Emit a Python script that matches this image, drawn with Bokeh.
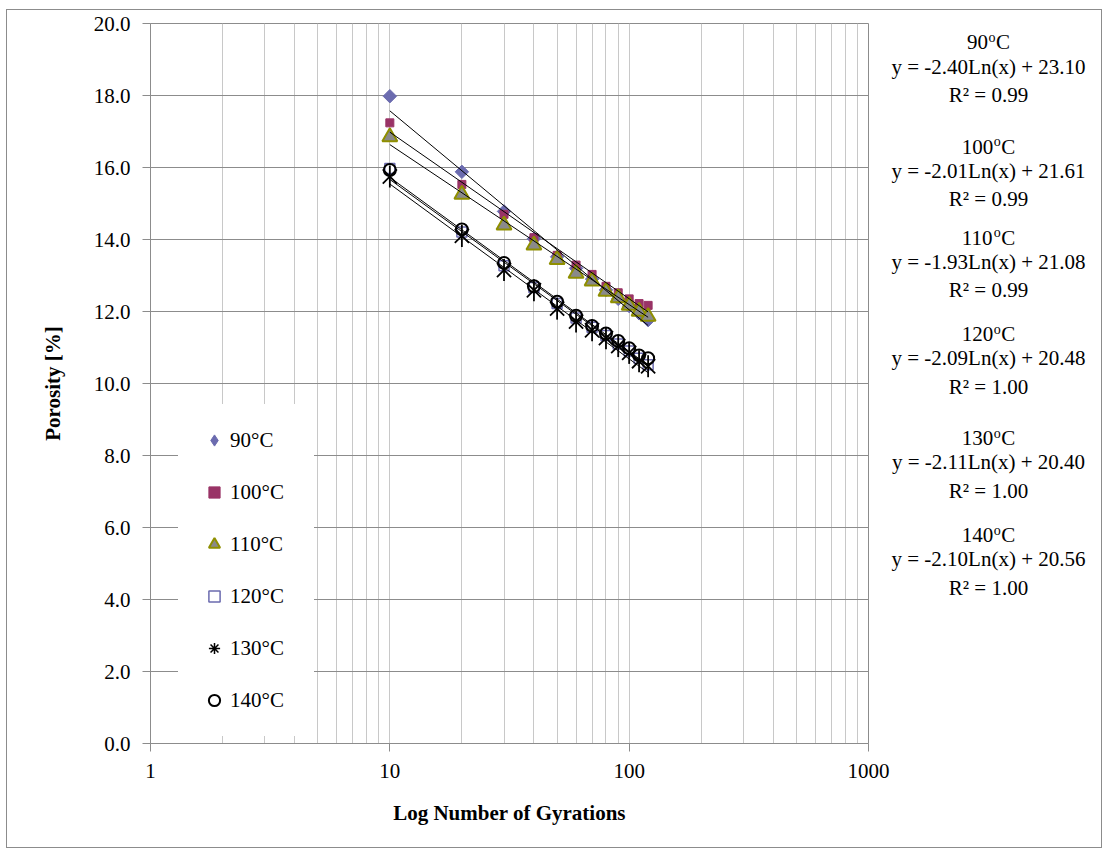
import numpy as np
from bokeh.plotting import figure
from bokeh.layouts import row
from bokeh.models import (Range1d, FixedTicker, NumeralTickFormatter, Legend,
                          LegendItem)
from bokeh.core.properties import value
from bokeh.embed import file_html
from bokeh.resources import INLINE

# Number of gyrations at which porosity was recorded
gyrations = [10, 20, 30, 40, 50, 60, 70, 80, 90, 100, 110, 120]

# Compaction temperatures
temp_values = ["90", "100", "110", "120", "130", "140"]
temps = [t + "°C" for t in temp_values]

# Porosity [%] per temperature
por_90 = [17.98, 15.88, 14.78, 14.02, 13.52, 13.20, 12.90, 12.60, 12.35, 12.15, 11.95, 11.76]
por_100 = [17.24, 15.53, 14.70, 14.05, 13.56, 13.29, 13.03, 12.70, 12.52, 12.35, 12.22, 12.17]
por_110 = [16.85, 15.25, 14.40, 13.84, 13.44, 13.06, 12.84, 12.56, 12.38, 12.17, 12.00, 11.86]
por_120 = [15.97, 14.21, 13.27, 12.67, 12.22, 11.82, 11.56, 11.33, 11.10, 10.90, 10.70, 10.52]
por_130 = [15.75, 14.10, 13.15, 12.59, 12.08, 11.72, 11.48, 11.26, 11.04, 10.85, 10.62, 10.48]
por_140 = [15.93, 14.28, 13.35, 12.70, 12.27, 11.88, 11.60, 11.39, 11.18, 10.98, 10.78, 10.70]

# Logarithmic trend lines y = a*Ln(x) + b
slopes = [-2.40, -2.01, -1.93, -2.09, -2.11, -2.10]
intercepts = [23.10, 21.61, 21.08, 20.48, 20.40, 20.56]
r_squared = [0.99, 0.99, 0.99, 1.00, 1.00, 1.00]

# Axis ticks
x_major = [1, 10, 100, 1000]
x_minor = [m * d for d in (1, 10, 100) for m in range(2, 10)]
y_ticks = [0, 2, 4, 6, 8, 10, 12, 14, 16, 18, 20]

FONT = "Liberation Serif"
FS_PX = 21
FS = f"{FS_PX}px"
GRID_DARK = "#8c8c8c"
GRID_LIGHT = "#c8c8c8"

PH = 837
p = figure(width=883, height=PH, x_axis_type="log",
           x_range=Range1d(1, 1000), y_range=Range1d(0, 20),
           output_backend="svg", toolbar_location=None,
           min_border_left=143, min_border_right=22,
           min_border_top=13, min_border_bottom=PH - 13 - 720)

p.background_fill_color = "white"
p.border_fill_color = "white"
p.outline_line_color = GRID_DARK

# axes
p.xaxis.ticker = FixedTicker(ticks=x_major, minor_ticks=x_minor)
p.xaxis.formatter = NumeralTickFormatter(format="0")
p.yaxis.ticker = FixedTicker(ticks=y_ticks)
p.yaxis.formatter = NumeralTickFormatter(format="0.0")
for ax in (p.xaxis, p.yaxis):
    ax.axis_line_color = GRID_DARK
    ax.major_tick_line_color = GRID_DARK
    ax.major_tick_out = 8
    ax.major_tick_in = 0
    ax.minor_tick_line_color = None
    ax.major_label_text_font = FONT
    ax.major_label_text_font_size = FS
    ax.major_label_text_color = "black"
    ax.major_label_standoff = 12
    ax.axis_label_text_font = FONT
    ax.axis_label_text_font_size = FS
    ax.axis_label_text_font_style = "bold"
    ax.axis_label_text_color = "black"
p.xaxis.axis_label = "Log Number of Gyrations"
p.yaxis.axis_label = "Porosity [%]"
p.xaxis.axis_label_standoff = 20
p.yaxis.axis_label_standoff = 26

# grid
p.ygrid.grid_line_color = GRID_DARK
p.xgrid.grid_line_color = GRID_LIGHT
p.xgrid.minor_grid_line_color = GRID_LIGHT

BLUE = "#6B6BAF"
r90 = p.scatter(gyrations, por_90, marker="square", size=9.5, angle=np.pi / 4,
                fill_color=BLUE, line_color=BLUE)
r100 = p.scatter(gyrations, por_100, marker="square", size=8,
                 fill_color="#993366", line_color="#993366")
r110 = p.scatter(gyrations, por_110, marker="triangle", size=15,
                 fill_color="#8A8A8A", line_color="#8F8F00", line_width=2)
r120 = p.scatter(gyrations, por_120, marker="square", size=10,
                 fill_color="white", line_color=BLUE, line_width=1.5)
# star marker: a cross of diagonals plus a vertical stroke
r130x = p.scatter(gyrations, por_130, marker="x", size=20,
                  line_color="black", line_width=1.8)
r130v = p.scatter(gyrations, por_130, marker="dash", size=22, angle=np.pi / 2,
                  line_color="black", line_width=1.8)
r140 = p.scatter(gyrations, por_140, marker="circle", size=12, fill_alpha=0,
                 line_color="black", line_width=2)

# trend lines over the measured range
for a, b in zip(slopes, intercepts):
    xs = [gyrations[0], gyrations[-1]]
    ys = [a * np.log(x) + b for x in xs]
    p.line(xs, ys, line_color="black", line_width=1)

# legend-only glyphs for the two symbols that need a different legend shape
nan = [float("nan")]
k90 = p.scatter(nan, nan, marker="diamond", fill_color=BLUE, line_color=BLUE)
k130 = p.scatter(nan, nan, marker="asterisk", line_color="black", line_width=1.5)

legend = Legend(items=[LegendItem(label=t, renderers=[r]) for t, r in
                       zip(temps, [k90, r100, r110, r120, k130, r140])],
                location=(28, 7))
legend.label_text_font = FONT
legend.label_text_font_size = FS
legend.label_text_color = "black"
legend.glyph_width = 28
legend.glyph_height = 28
legend.label_height = 28
legend.label_width = 62
legend.spacing = 24
legend.padding = 22
legend.label_standoff = 2
legend.border_line_color = "white"
legend.border_line_alpha = 0
legend.background_fill_color = "white"
legend.background_fill_alpha = 1
p.add_layout(legend, "center")

# trend-line equations beside the plot area
q = figure(width=211, height=PH, x_range=Range1d(0, 211), y_range=Range1d(PH, 0),
           output_backend="svg", toolbar_location=None,
           x_axis_location=None, y_axis_location=None,
           min_border_left=0, min_border_right=0, min_border_top=0, min_border_bottom=0)
q.grid.visible = False
q.outline_line_color = None
q.background_fill_color = "white"
q.border_fill_color = "white"

CX = 98
block_tops = [22, 143, 249, 361, 482, 595]
line_offsets = [28, 61]
SUP_PX = 14
digit_w = 0.5 * FS_PX
sup_w = 0.5 * SUP_PX + 1
c_w = 0.667 * FS_PX

main_x, main_y, main_t, main_align = [], [], [], []
sup_x, sup_y = [], []
for num, a, b, r2, top in zip(temp_values, slopes, intercepts, r_squared, block_tops):
    # heading: number, raised "o", then C
    left = CX - (len(num) * digit_w + sup_w + c_w) / 2
    main_x += [left, left + len(num) * digit_w + sup_w]
    main_y += [top, top]
    main_t += [num, "C"]
    main_align += ["left", "left"]
    sup_x.append(left + len(num) * digit_w + 0.5)
    sup_y.append(top - 5.5)
    for t, off in zip([f"y = {a:.2f}Ln(x) + {b:.2f}", f"R² = {r2:.2f}"], line_offsets):
        main_x.append(CX)
        main_y.append(top + off)
        main_t.append(t)
        main_align.append("center")

q.text(main_x, main_y, text=main_t, text_align=main_align, text_font=value(FONT),
       text_font_size=FS, text_baseline="middle", text_color="black")
q.text(sup_x, sup_y, text=["o"] * len(sup_x), text_align="left", text_font=value(FONT),
       text_font_size=f"{SUP_PX}px", text_baseline="middle", text_color="black")

layout = row(p, q, margin=(9, 0, 0, 6), styles={"border": "1px solid #8c8c8c"})

open("out.html", "w").write(file_html(layout, INLINE))
